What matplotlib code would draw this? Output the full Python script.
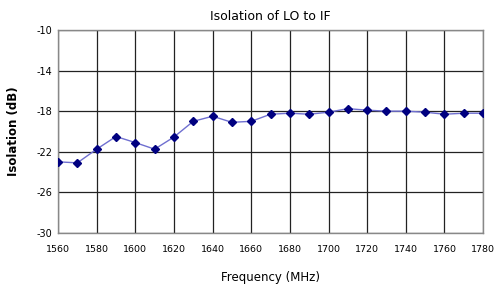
import matplotlib
matplotlib.use("Agg")
import matplotlib.pyplot as plt

freq = [1560, 1570, 1580, 1590, 1600, 1610, 1620, 1630, 1640, 1650, 1660, 1670,
        1680, 1690, 1700, 1710, 1720, 1730, 1740, 1750, 1760, 1770, 1780]
isolation = [-23.0, -23.1, -21.75, -20.5, -21.1, -21.75, -20.55, -19.0, -18.5, -19.1, -19.0, -18.3,
             -18.2, -18.3, -18.1, -17.75, -17.9, -18.0, -18.0, -18.1, -18.3, -18.2, -18.2]
xticks = list(range(1560, 1781, 20))
yticks = [-30, -26, -22, -18, -14, -10]

plt.rcParams['font.family'] = ['DejaVu Sans']
fig = plt.figure(figsize=(4.96, 2.87), dpi=100)
ax = fig.add_axes([0.117, 0.189, 0.857, 0.706])

ax.plot(freq, isolation, color='#6f6fd0', lw=1.0, marker='D', ms=3.8,
        markerfacecolor='#000080', markeredgecolor='#000080', zorder=3)

ax.set_xlim(1560, 1780)
ax.set_ylim(-30, -10)
ax.set_xticks(xticks)
ax.set_yticks(yticks)
ax.set_xticklabels([str(t) for t in xticks], fontsize=6.8)
ax.set_yticklabels([str(t) for t in yticks], fontsize=7)
ax.tick_params(length=0, pad=9)
ax.tick_params(axis='y', pad=4)
ax.grid(True, color='#222222', lw=0.9)
for s in ax.spines.values():
    s.set_color('#888888')
    s.set_linewidth(1.0)

ax.set_title('Isolation of LO to IF', fontsize=9, pad=7)
ax.set_xlabel('Frequency (MHz)', fontsize=8.5, labelpad=12)
ax.set_ylabel('Isolation (dB)', fontsize=8.5, fontweight='bold', labelpad=12)

fig.savefig('out.png', dpi=100)
